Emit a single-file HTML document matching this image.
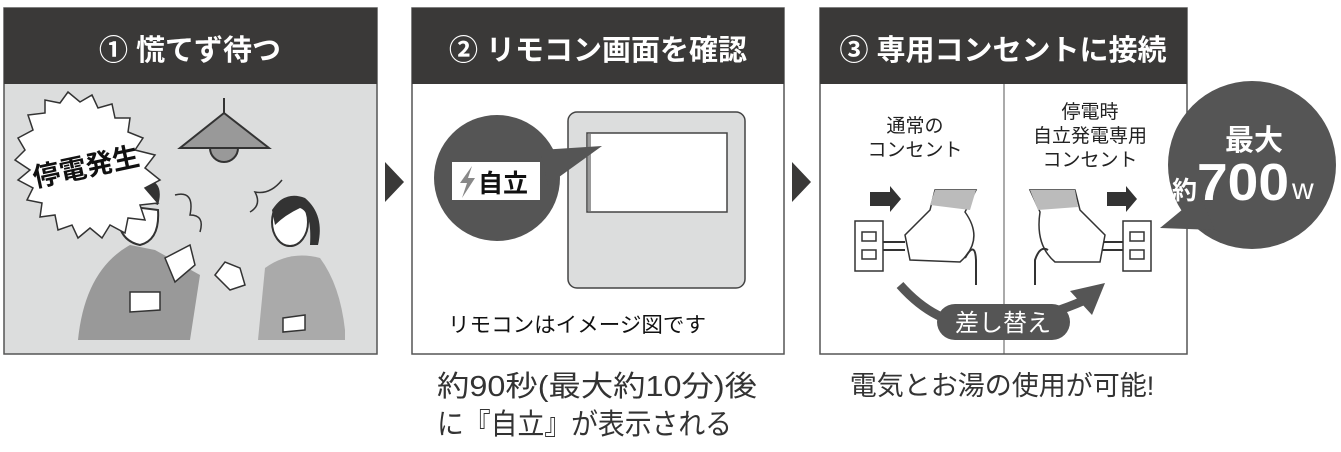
<!DOCTYPE html>
<html><head><meta charset="utf-8"><style>
body{margin:0;background:#fff;width:1341px;height:447px;overflow:hidden}
svg text{font-family:"Liberation Sans","Noto Sans CJK JP",sans-serif}
</style></head><body>
<svg width="1341" height="447" viewBox="0 0 1341 447" xmlns="http://www.w3.org/2000/svg">
<!-- panel 1 -->
<rect x="4" y="8" width="373" height="346" fill="#dcdddd" stroke="#555" stroke-width="1.5"/>
<rect x="4" y="8" width="373" height="76" fill="#3a3938"/>
<text x="190" y="60" font-size="29" font-weight="bold" fill="#fff" text-anchor="middle">① 慌てず待つ</text>
<!-- lamp -->
<line x1="224" y1="98" x2="224" y2="115" stroke="#333" stroke-width="2"/>
<polygon points="224,113 180,148 269,148" fill="#999" stroke="#333" stroke-width="2"/>
<path d="M210,148 A14,14 0 0 0 238,148 Z" fill="#999" stroke="#333" stroke-width="2"/>
<!-- man -->
<path d="M78,340 Q85,270 130,245 L155,250 L200,275 L190,340 Z" fill="#999"/>
<path d="M118,205 Q115,240 140,245 Q160,240 158,210 Z" fill="#fff" stroke="#333" stroke-width="2"/>
<path d="M115,210 Q115,180 145,178 Q165,182 158,205 Q140,198 125,215 Z" fill="#333"/>
<path d="M165,258 L190,245 L195,265 L175,282 Z" fill="#fff" stroke="#333" stroke-width="1.5"/>
<path d="M130,292 L160,292 L160,310 L130,312 Z" fill="#fff" stroke="#333" stroke-width="1.5"/>
<!-- woman -->
<path d="M258,340 L265,268 Q290,250 320,258 Q340,285 345,330 L345,340 Z" fill="#aaa"/>
<ellipse cx="290" cy="222" rx="18" ry="24" fill="#fff" stroke="#333" stroke-width="2"/>
<path d="M272,210 Q285,190 305,198 Q325,215 318,245 L310,245 Q312,212 300,208 Q285,215 275,225 Z" fill="#333"/>
<path d="M215,275 L225,262 L240,268 L245,285 L230,290 Z" fill="#fff" stroke="#333" stroke-width="1.5"/>
<path d="M283,318 L305,315 L305,330 L283,332 Z" fill="#fff" stroke="#333" stroke-width="1.5"/>
<path d="M175,195 Q195,190 190,215 Q205,215 200,232" fill="none" stroke="#333" stroke-width="1.5"/>
<path d="M282,180 Q270,195 255,192 Q262,205 250,212" fill="none" stroke="#333" stroke-width="1.5"/>
<!-- burst -->
<polygon points="15,160 25,150 18,138 33,130 28,115 45,113 45,100 60,103 68,92 80,102 92,95 98,108 112,104 115,118 130,118 128,132 143,138 135,150 155,155 145,168 160,180 145,188 158,203 140,205 145,220 128,218 125,233 110,225 102,238 90,228 78,238 72,225 58,230 55,215 40,217 42,203 27,200 33,188 18,180 30,170" fill="#fff" stroke="#333" stroke-width="1.5"/>
<text x="88" y="176" font-size="27" font-weight="bold" fill="#111" text-anchor="middle" transform="rotate(-12 88 176)">停電発生</text>
<!-- arrow 1 -->
<polygon points="385,162 404,182 385,202" fill="#3a3938"/>
<!-- panel 2 -->
<rect x="412" y="8" width="372" height="346" fill="#fff" stroke="#555" stroke-width="1.5"/>
<rect x="412" y="8" width="372" height="76" fill="#3a3938"/>
<text x="598" y="60" font-size="29" font-weight="bold" fill="#fff" text-anchor="middle">② リモコン画面を確認</text>
<rect x="568" y="112" width="177" height="176" rx="9" fill="#dcdddd" stroke="#444" stroke-width="1.5"/>
<rect x="587" y="133" width="140" height="79" fill="#fff" stroke="#444" stroke-width="1.5"/>
<rect x="588" y="134" width="3" height="77" fill="#999"/>
<circle cx="497" cy="178" r="63" fill="#555"/>
<polygon points="540,150 602,146 548,185" fill="#555"/>
<rect x="452" y="162" width="88" height="38" fill="#fff"/>
<polygon points="472,166 460,183 467,183 462,198 475,178 468,178" fill="#888"/>
<text x="503" y="192" font-size="25" font-weight="bold" fill="#111" text-anchor="middle">自立</text>
<text x="448" y="332" font-size="21" fill="#111" textLength="258" lengthAdjust="spacingAndGlyphs">リモコンはイメージ図です</text>
<text x="437" y="396" font-size="29" fill="#333" textLength="320" lengthAdjust="spacingAndGlyphs">約90秒(最大約10分)後</text>
<text x="437" y="434" font-size="29" fill="#333" textLength="295" lengthAdjust="spacingAndGlyphs">に『自立』が表示される</text>
<!-- arrow 2 -->
<polygon points="792,162 811,182 792,202" fill="#3a3938"/>
<!-- panel 3 -->
<rect x="820" y="8" width="367" height="346" fill="#fff" stroke="#555" stroke-width="1.5"/>
<rect x="820" y="8" width="367" height="76" fill="#3a3938"/>
<text x="1003" y="60" font-size="29" font-weight="bold" fill="#fff" text-anchor="middle">③ 専用コンセントに接続</text>
<line x1="1004" y1="84" x2="1004" y2="354" stroke="#555" stroke-width="1"/>
<text x="915" y="132" font-size="19" fill="#222" text-anchor="middle">通常の</text>
<text x="915" y="156" font-size="19" fill="#222" text-anchor="middle">コンセント</text>
<text x="1090" y="118" font-size="19" fill="#222" text-anchor="middle">停電時</text>
<text x="1090" y="142" font-size="19" fill="#222" text-anchor="middle">自立発電専用</text>
<text x="1090" y="166" font-size="19" fill="#222" text-anchor="middle">コンセント</text>
<!-- left outlet -->
<polygon points="870,192 890,192 890,186 901,199 890,212 890,206 870,206" fill="#333"/>
<rect x="855" y="221" width="28" height="50" fill="#fff" stroke="#333" stroke-width="1.5"/>
<rect x="862" y="232" width="14" height="9" fill="none" stroke="#333" stroke-width="1.5"/>
<rect x="862" y="250" width="14" height="9" fill="none" stroke="#333" stroke-width="1.5"/>
<line x1="883" y1="242" x2="905" y2="242" stroke="#333" stroke-width="2"/>
<line x1="883" y1="250" x2="905" y2="250" stroke="#333" stroke-width="2"/>
<path d="M935,190 L976,190 L965,212 Q985,240 960,262 L910,260 L905,235 L930,210 Z" fill="#fff" stroke="#333" stroke-width="1.5"/>
<polygon points="935,190 976,190 970,210 930,205" fill="#bbb"/>
<path d="M965,258 Q975,240 976,260 L976,285" fill="none" stroke="#333" stroke-width="2"/>
<!-- right outlet -->
<polygon points="1107,192 1126,192 1126,186 1137,199 1126,212 1126,206 1107,206" fill="#333"/>
<rect x="1123" y="221" width="28" height="50" fill="#fff" stroke="#333" stroke-width="1.5"/>
<rect x="1130" y="232" width="14" height="9" fill="none" stroke="#333" stroke-width="1.5"/>
<rect x="1130" y="250" width="14" height="9" fill="none" stroke="#333" stroke-width="1.5"/>
<line x1="1102" y1="242" x2="1123" y2="242" stroke="#333" stroke-width="2"/>
<line x1="1102" y1="250" x2="1123" y2="250" stroke="#333" stroke-width="2"/>
<path d="M1030,190 L1075,190 L1080,210 L1105,235 L1100,262 L1055,262 Q1035,245 1040,212 Z" fill="#fff" stroke="#333" stroke-width="1.5"/>
<polygon points="1030,190 1075,190 1078,207 1038,210" fill="#bbb"/>
<path d="M1035,285 L1035,260 Q1040,245 1048,250" fill="none" stroke="#333" stroke-width="2"/>
<!-- swap arrow -->
<path d="M900,285 Q940,330 990,325 Q1040,320 1085,300" fill="none" stroke="#555" stroke-width="9"/>
<polygon points="1105,283 1070,291 1092,315" fill="#555"/>
<rect x="937" y="304" width="133" height="36" rx="18" fill="#555"/>
<text x="1003" y="331" font-size="24" fill="#fff" text-anchor="middle">差し替え</text>
<!-- 700W bubble -->
<circle cx="1252" cy="165" r="84" fill="#555"/>
<polygon points="1160,228 1200,195 1215,230" fill="#555"/>
<text x="1254" y="150" font-size="29" font-weight="bold" fill="#fff" text-anchor="middle">最大</text>
<text x="1172" y="199" font-size="25" font-weight="bold" fill="#fff">約</text>
<text x="1197" y="200" font-size="52" font-weight="bold" fill="#fff" textLength="92" lengthAdjust="spacingAndGlyphs">700</text>
<text x="1292" y="199" font-size="30" fill="#fff">w</text>
<text x="1002" y="395" font-size="27" fill="#333" text-anchor="middle">電気とお湯の使用が可能!</text>
</svg>
</body></html>
